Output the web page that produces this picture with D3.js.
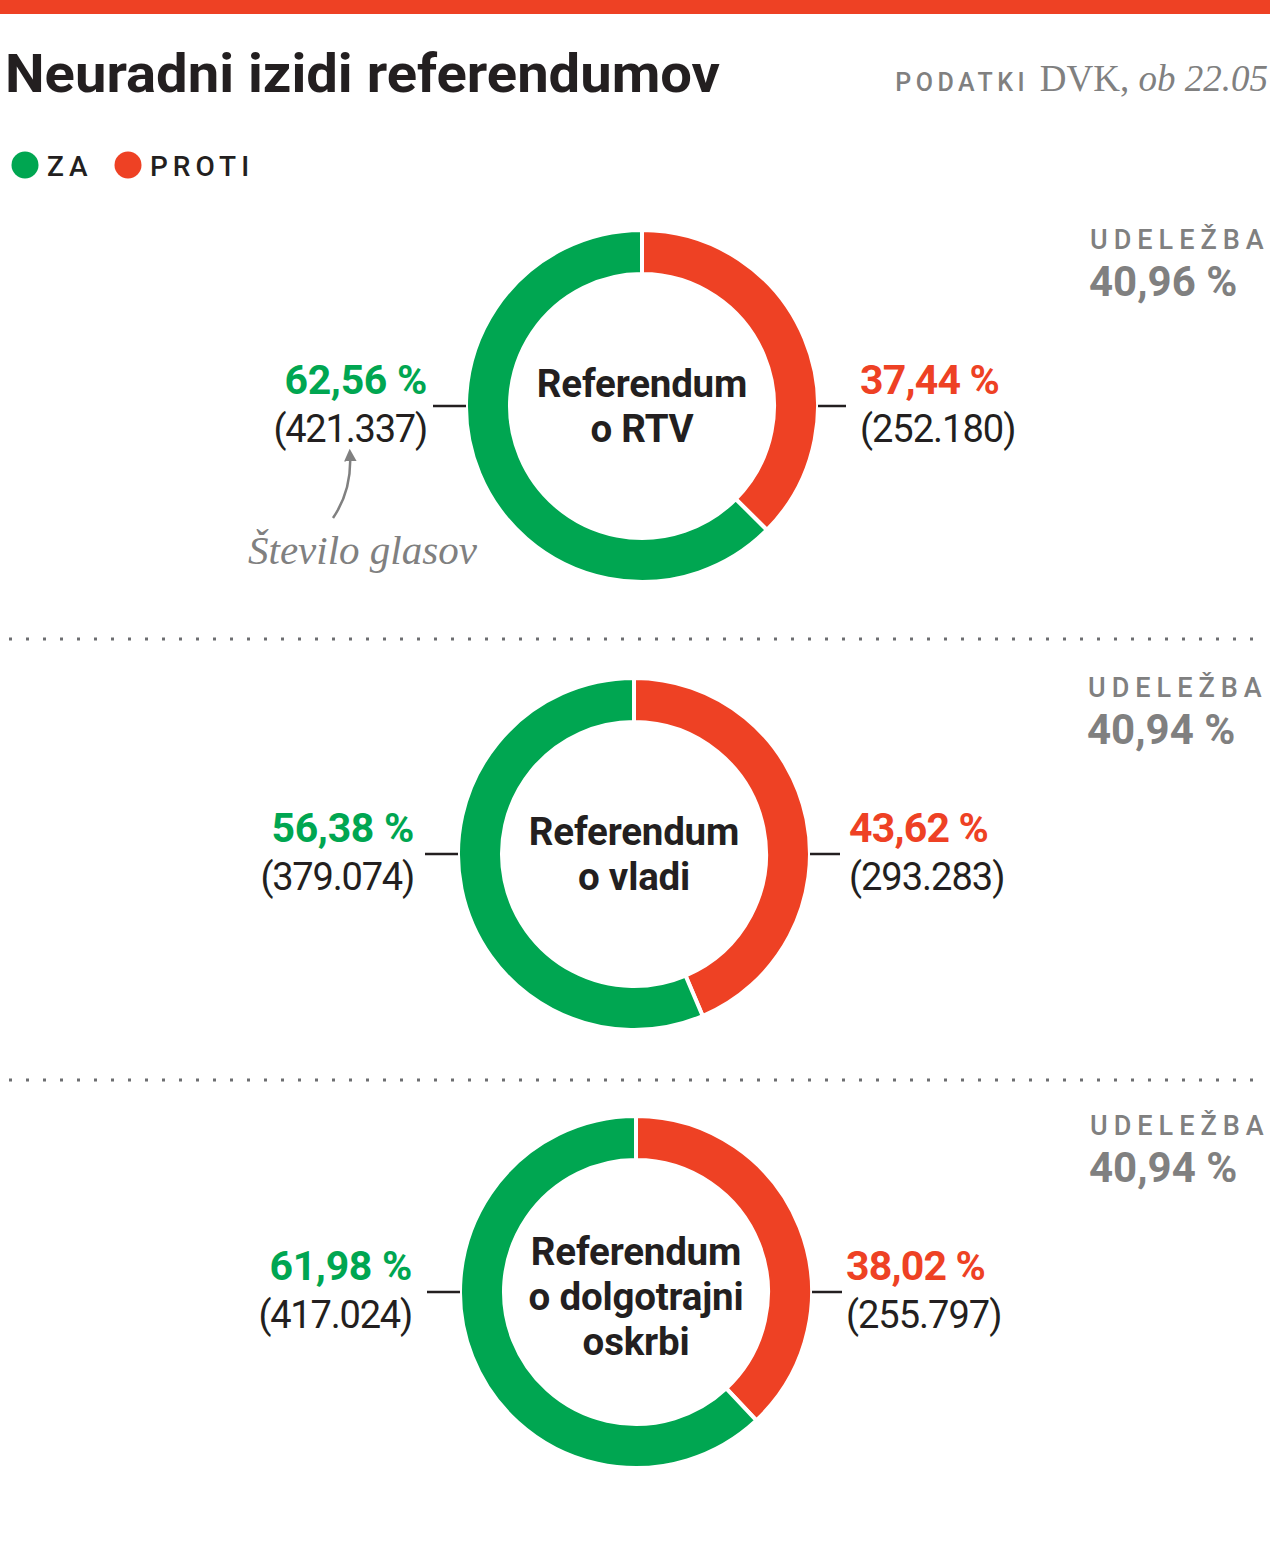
<!DOCTYPE html>
<html>
<head>
<meta charset="utf-8">
<script src="https://cdn.jsdelivr.net/npm/d3@7"></script>
<style>
  html, body { margin: 0; padding: 0; background: #fff; }
  svg { display: block; }
</style>
</head>
<body>
<svg id="chart" width="1270" height="1546"></svg>
<script>
// Data
const titles = [
  ['Referendum', 'o RTV'],
  ['Referendum', 'o vladi'],
  ['Referendum', 'o dolgotrajni', 'oskrbi']
];
const zaPct = [62.56, 56.38, 61.98];
const protiPct = [37.44, 43.62, 38.02];
const zaVotes = [421337, 379074, 417024];
const protiVotes = [252180, 293283, 255797];
const turnout = [40.96, 40.94, 40.94];
const legendLabels = ['ZA', 'PROTI'];

const GREEN = '#00a651';
const RED = '#ee4124';
const GRAY = '#808080';
const INK = '#231f20';
const SANS = 'Roboto, "Noto Sans", sans-serif';
const SERIF = '"Liberation Serif", "DejaVu Serif", serif';

const locale = d3.formatLocale({ decimal: ',', thousands: '.', grouping: [3], currency: ['', ''] });
const fmtVotes = locale.format(',d');
const fmtPct = v => locale.format('.2f')(v) + ' %';

const svg = d3.select('#chart');

// top bar
svg.append('rect').attr('x', 0).attr('y', 0).attr('width', 1270).attr('height', 14).attr('fill', RED);

// title
svg.append('text')
  .attr('x', 5).attr('y', 92)
  .attr('font-family', SANS).attr('font-weight', 700).attr('font-size', 54)
  .attr('fill', INK)
  .attr('textLength', 715).attr('lengthAdjust', 'spacingAndGlyphs')
  .text('Neuradni izidi referendumov');

// source
const src = svg.append('text')
  .attr('x', 1268).attr('y', 91).attr('text-anchor', 'end').attr('fill', GRAY);
src.append('tspan').attr('font-family', SANS).attr('font-weight', 500)
  .attr('font-size', 25).attr('letter-spacing', 4.5).text('PODATKI ');
src.append('tspan').attr('font-family', SERIF).attr('font-size', 37).text('DVK, ');
src.append('tspan').attr('font-family', SERIF).attr('font-style', 'italic').attr('font-size', 37).text('ob 22.05');

// legend
const legendX = [25, 128];
legendLabels.forEach((lab, i) => {
  svg.append('circle').attr('cx', legendX[i]).attr('cy', 165).attr('r', 13.5)
    .attr('fill', i === 0 ? GREEN : RED);
  svg.append('text').attr('x', legendX[i] + 22).attr('y', 176)
    .attr('font-family', SANS).attr('font-weight', 500).attr('font-size', 28)
    .attr('letter-spacing', 5).attr('fill', INK).text(lab);
});

// dividers
[639, 1080].forEach(y => {
  svg.append('line').attr('x1', 9).attr('x2', 1258).attr('y1', y).attr('y2', y)
    .attr('stroke', '#6d6e71').attr('stroke-width', 3).attr('stroke-dasharray', '3 14');
});

// donuts (layout)
const centers = [[642, 406], [634, 854], [636, 1292]];
const udelX = [1090, 1088, 1090];
const gapL = [39, 44, 48];   // donut edge -> left label end
const gapR = [42, 39, 34];   // donut edge -> right label start
const lineR = [28, 30, 30];
const outerR = 176, innerR = 132;

const pie = d3.pie().sort(null).value(d => d.value);
const arc = d3.arc().innerRadius(innerR).outerRadius(outerR);

titles.forEach((t, i) => {
  const [cx, cy] = centers[i];
  const g = svg.append('g').attr('transform', `translate(${cx},${cy})`);
  const slices = pie([
    { key: 'PROTI', value: protiPct[i] },
    { key: 'ZA', value: zaPct[i] }
  ]);
  g.selectAll('path').data(slices).join('path')
    .attr('d', arc)
    .attr('fill', d => d.data.key === 'ZA' ? GREEN : RED)
    .attr('stroke', '#fff').attr('stroke-width', 4).attr('stroke-linejoin', 'miter');

  // center title
  const lh = 45;
  const y0 = t.length === 2 ? -9 : -27;
  t.forEach((line, k) => {
    g.append('text').attr('x', 0).attr('y', y0 + k * lh)
      .attr('text-anchor', 'middle').attr('font-family', SANS).attr('font-weight', 700)
      .attr('font-size', 38.5).attr('letter-spacing', -0.2).attr('fill', INK).text(line);
  });

  // leader lines
  g.append('line').attr('x1', -outerR - 33).attr('x2', -outerR).attr('y1', 0).attr('y2', 0)
    .attr('stroke', INK).attr('stroke-width', 2.5);
  g.append('line').attr('x1', outerR).attr('x2', outerR + lineR[i]).attr('y1', 0).attr('y2', 0)
    .attr('stroke', INK).attr('stroke-width', 2.5);

  // left labels (ZA)
  const lx = -outerR - gapL[i];
  g.append('text').attr('x', lx).attr('y', -12).attr('text-anchor', 'end')
    .attr('font-family', SANS).attr('font-weight', 700).attr('font-size', 41)
    .attr('letter-spacing', -0.3).attr('fill', GREEN).text(fmtPct(zaPct[i]));
  g.append('text').attr('x', lx).attr('y', 36).attr('text-anchor', 'end')
    .attr('font-family', SANS).attr('font-weight', 400).attr('font-size', 38)
    .attr('letter-spacing', -1.2).attr('fill', INK).text('(' + fmtVotes(zaVotes[i]) + ')');

  // right labels (PROTI)
  const rx = outerR + gapR[i];
  g.append('text').attr('x', rx).attr('y', -12)
    .attr('font-family', SANS).attr('font-weight', 700).attr('font-size', 41)
    .attr('letter-spacing', -0.8).attr('fill', RED).text(fmtPct(protiPct[i]));
  g.append('text').attr('x', rx).attr('y', 36)
    .attr('font-family', SANS).attr('font-weight', 400).attr('font-size', 38)
    .attr('letter-spacing', -1).attr('fill', INK).text('(' + fmtVotes(protiVotes[i]) + ')');

  // turnout
  svg.append('text').attr('x', udelX[i]).attr('y', cy - 157)
    .attr('font-family', SANS).attr('font-weight', 500).attr('font-size', 27)
    .attr('letter-spacing', 6).attr('fill', GRAY).text('UDELEŽBA');
  svg.append('text').attr('x', udelX[i] - 1).attr('y', cy - 110)
    .attr('font-family', SANS).attr('font-weight', 700).attr('font-size', 42)
    .attr('fill', GRAY).text(fmtPct(turnout[i]));
});

// annotation on first donut
svg.append('defs').append('marker')
  .attr('id', 'arrow').attr('viewBox', '0 0 10 10').attr('refX', 5).attr('refY', 5)
  .attr('markerWidth', 5).attr('markerHeight', 5).attr('orient', 'auto-start-reverse')
  .append('path').attr('d', 'M0,0 L10,5 L0,10 z').attr('fill', GRAY);

svg.append('path')
  .attr('d', 'M333,518 Q352,490 350,455')
  .attr('fill', 'none').attr('stroke', GRAY).attr('stroke-width', 2.5)
  .attr('marker-end', 'url(#arrow)');

svg.append('text').attr('x', 248).attr('y', 564)
  .attr('font-family', SERIF).attr('font-style', 'italic').attr('font-size', 41)
  .attr('fill', GRAY).text('Število glasov');
</script>
</body>
</html>
